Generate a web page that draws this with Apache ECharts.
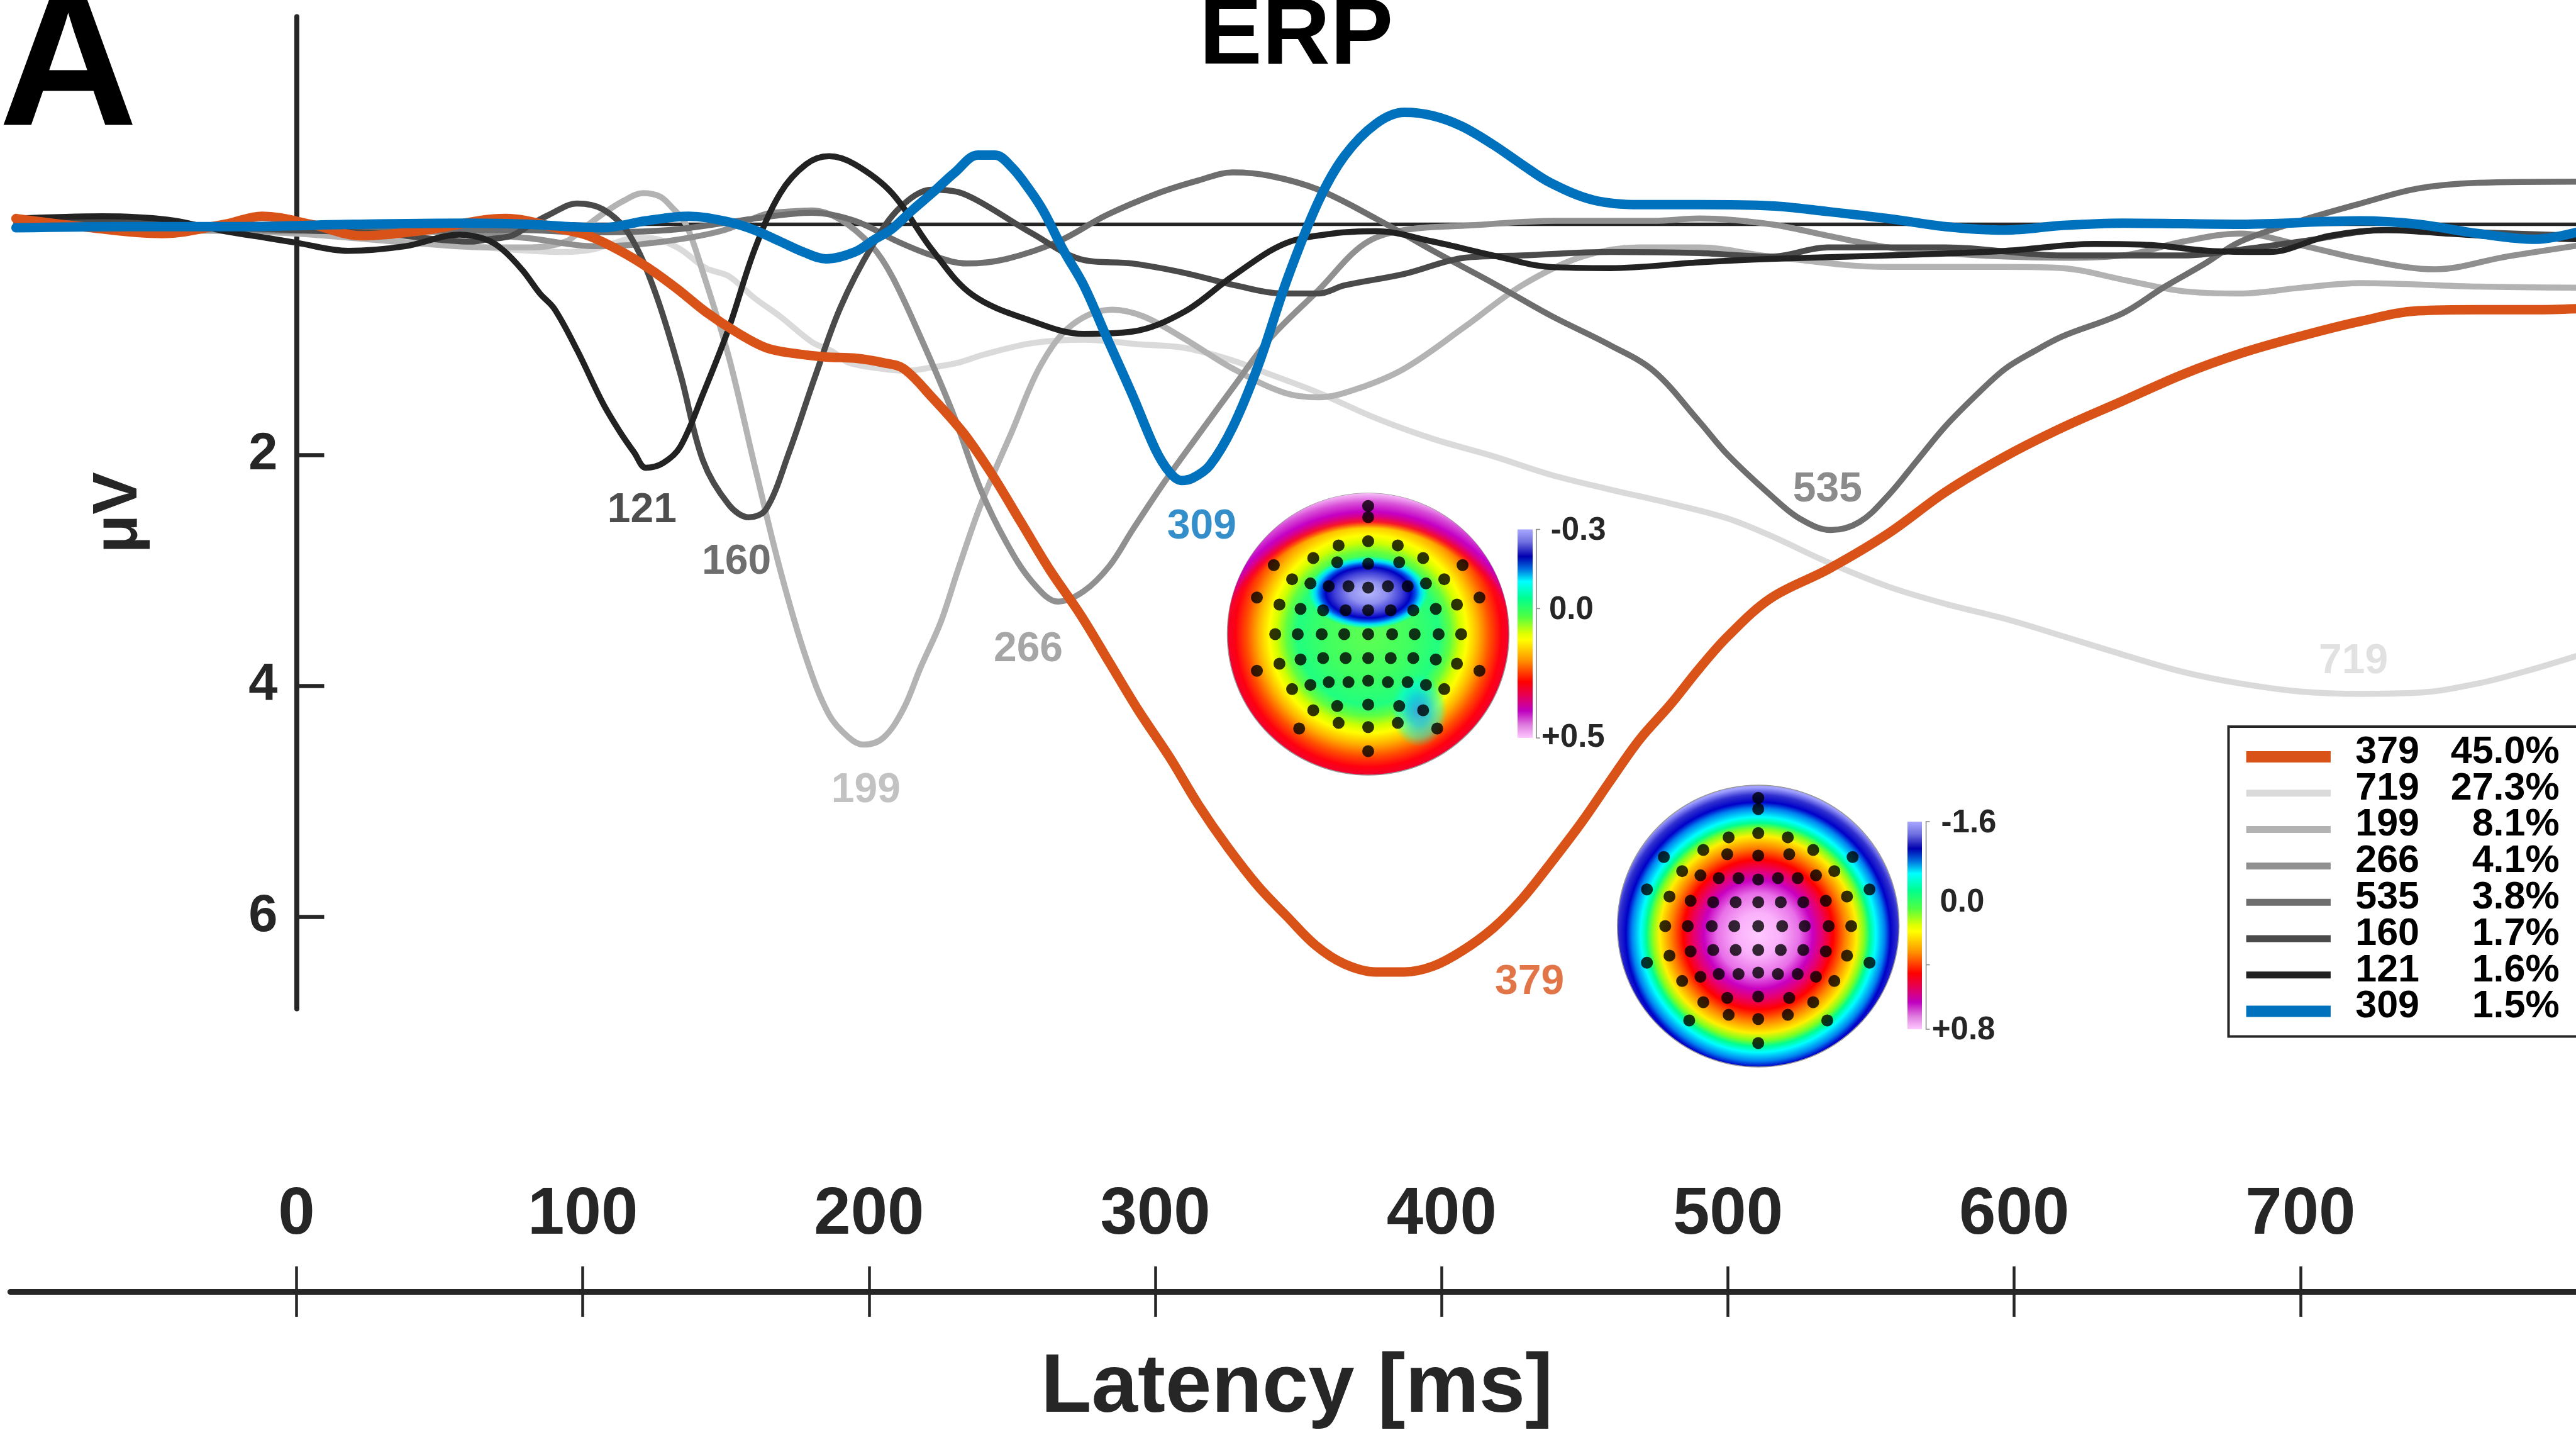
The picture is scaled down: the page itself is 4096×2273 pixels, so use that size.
<!DOCTYPE html>
<html><head><meta charset="utf-8">
<script src="https://cdn.jsdelivr.net/npm/echarts@6/dist/echarts.min.js"></script>
<style>html,body{margin:0;padding:0;background:#fff}#c{width:4096px;height:2273px}</style>
</head><body><div id="c"></div>
<script>
// ---------------- DATA ----------------
const tickLat = [0, 100, 200, 300, 400, 500, 600, 700];
const tickAmp = [2, 4, 6];

const lat379 = [-98,-75,-47,-25,-12,5,23,45,73,94,102,113,123,133,143,154,164,174,185,195,205,212,222,233,243,253,263,274,284,294,305,315,325,336,346,356,366,377,387,397,407,418,428,438,449,459,469,480,490,500,515,535,556,576,597,617,638,659,679,700,721,741,762,782,798];
const amp379 = [-0.05,0.02,0.08,0.0,-0.07,0.0,0.1,0.05,-0.05,0.05,0.1,0.23,0.38,0.56,0.76,0.94,1.07,1.12,1.15,1.16,1.2,1.25,1.5,1.81,2.17,2.58,2.99,3.39,3.8,4.21,4.62,5.03,5.39,5.74,6.0,6.25,6.41,6.48,6.48,6.43,6.3,6.1,5.85,5.54,5.18,4.82,4.47,4.16,3.85,3.57,3.24,2.99,2.68,2.32,2.01,1.76,1.53,1.3,1.12,0.97,0.84,0.75,0.74,0.74,0.73];

const lat719 = [-98,-60,-20,0,20,40,66,82,94,103,110,118,123,133,143,151,160,169,180,187,193,204,213,222,231,240,257,275,294,310,327,340,357,377,397,418,438,459,480,500,515,535,556,576,597,617,638,659,679,700,721,741,762,782,798];
const amp719 = [0.02,0.04,0.06,0.08,0.1,0.13,0.2,0.23,0.24,0.22,0.17,0.12,0.12,0.2,0.38,0.45,0.64,0.8,1.02,1.1,1.2,1.25,1.27,1.24,1.2,1.13,1.03,1.0,1.04,1.07,1.18,1.3,1.46,1.68,1.86,2.01,2.17,2.3,2.42,2.55,2.7,2.93,3.14,3.29,3.42,3.57,3.73,3.88,3.98,4.05,4.07,4.06,3.98,3.85,3.73];

const lat199 = [-98,-60,-20,0,20,45,67,82,94,101,107,114,121,127,131,136,142,151,160,169,178,186,193,198,205,212,218,225,231,239,250,260,271,285,296,310,327,345,357,370,387,408,428,449,469,490,515,556,597,617,638,659,679,700,721,762,798];
const amp199 = [0.0,0.05,0.06,0.08,0.12,0.17,0.2,0.2,0.15,0.02,-0.09,-0.2,-0.27,-0.24,-0.15,0.0,0.42,1.15,2.09,3.0,3.76,4.25,4.45,4.51,4.45,4.2,3.84,3.45,3.0,2.43,1.79,1.22,0.87,0.74,0.8,0.99,1.25,1.46,1.5,1.43,1.25,0.89,0.53,0.28,0.2,0.2,0.28,0.37,0.37,0.38,0.48,0.58,0.6,0.55,0.51,0.54,0.55];

const lat266 = [-98,-60,-20,0,30,60,81,104,125,148,164,172,180,190,201,208,218,229,239,248,257,266,275,284,292,303,314,327,340,357,373,387,410,440,474,490,515,535,556,576,597,618,638,659,679,700,721,747,772,798];
const amp266 = [0.0,0.03,0.05,0.06,0.05,0.08,0.12,0.19,0.16,0.06,-0.09,-0.11,-0.12,-0.04,0.19,0.45,0.98,1.62,2.3,2.76,3.1,3.27,3.18,2.96,2.65,2.24,1.86,1.42,0.99,0.57,0.17,0.05,0.01,-0.03,-0.03,-0.05,0.0,0.1,0.2,0.25,0.28,0.29,0.27,0.15,0.08,0.18,0.3,0.39,0.28,0.18];

const lat535 = [-98,-60,-20,0,30,60,80,100,130,160,180,195,210,222,234,248,266,283,301,315,327,340,357,377,397,418,438,459,474,490,500,515,525,536,546,556,566,576,588,597,607,617,638,652,666,679,700,721,741,762,798];
const amp535 = [0.0,0.02,0.04,0.05,0.06,0.05,0.05,0.07,0.05,-0.05,-0.1,-0.03,0.15,0.27,0.34,0.3,0.15,-0.08,-0.27,-0.38,-0.45,-0.42,-0.3,-0.05,0.23,0.51,0.79,1.05,1.27,1.71,2.0,2.35,2.55,2.65,2.58,2.35,2.05,1.75,1.45,1.25,1.1,0.97,0.77,0.55,0.35,0.15,-0.03,-0.18,-0.31,-0.36,-0.37];

const lat160 = [-98,-60,-30,0,30,61,67,75,82,88,98,107,116,125,134,142,151,158,164,172,181,190,201,211,222,231,239,257,275,292,310,328,345,357,366,387,408,428,459,490,515,535,576,617,659,679,700,730,762,798];
const amp160 = [-0.03,-0.02,0.02,0.05,0.08,0.15,0.13,0.1,0.0,-0.08,-0.18,-0.13,0.08,0.57,1.29,2.05,2.43,2.54,2.47,1.98,1.33,0.72,0.19,-0.15,-0.3,-0.28,-0.19,0.08,0.31,0.34,0.42,0.53,0.6,0.6,0.53,0.43,0.29,0.27,0.24,0.25,0.28,0.2,0.2,0.27,0.27,0.22,0.15,0.05,0.07,0.1];

const lat121 = [-98,-68,-45,-25,-10,0,18,38,57,66,72,79,85,90,98,107,113,118,122,128,134,142,151,160,169,178,186,195,208,222,236,257,275,292,310,327,345,362,377,397,418,438,459,490,515,556,597,628,648,668,689,710,730,751,772,798];
const amp121 = [-0.05,-0.07,-0.04,0.06,0.12,0.16,0.23,0.19,0.09,0.13,0.22,0.4,0.6,0.73,1.09,1.55,1.8,1.98,2.11,2.07,1.93,1.47,0.9,0.22,-0.27,-0.52,-0.59,-0.52,-0.27,0.22,0.61,0.84,0.95,0.93,0.76,0.45,0.17,0.08,0.06,0.15,0.27,0.37,0.38,0.33,0.3,0.27,0.23,0.17,0.18,0.23,0.24,0.1,0.05,0.08,0.11,0.13];

const lat309 = [-98,-60,-20,20,60,81,95,107,122,137,151,160,169,177,185,195,202,208,215,222,230,238,244,250,256,261,268,275,283,292,300,305,309,313,319,327,336,346,357,366,377,387,397,407,418,428,438,453,469,490,515,535,556,576,597,617,638,679,721,741,762,782,798];
const amp309 = [0.03,0.02,0.02,0.0,-0.01,0.0,0.02,0.03,-0.03,-0.07,-0.02,0.05,0.15,0.24,0.3,0.24,0.13,0.04,-0.12,-0.27,-0.45,-0.6,-0.6,-0.49,-0.3,-0.11,0.23,0.53,0.98,1.48,1.95,2.15,2.22,2.2,2.09,1.76,1.22,0.48,-0.2,-0.59,-0.87,-0.97,-0.94,-0.85,-0.69,-0.52,-0.36,-0.21,-0.17,-0.17,-0.16,-0.11,-0.05,0.02,0.05,0.01,-0.01,0.0,-0.03,0.0,0.08,0.13,0.06];

const compNames = ['379', '719', '199', '266', '535', '160', '121', '309'];
const compPct = ['45.0%', '27.3%', '8.1%', '4.1%', '3.8%', '1.7%', '1.6%', '1.5%'];
// peak-label anchor (latency, amplitude)
const labelLat = [430.7, 718.5, 198.9, 255.6, 534.8, 153.7, 120.7, 316.2];
const labelAmp = [6.57, 3.79, 4.91, 3.685, 2.30, 2.927, 2.485, 2.622];

// electrode layout (normalised head coords, y down)
const elecX = [0,0,-0.21,0,0.21,-0.67,-0.39,-0.22,0,0.22,0.39,0.67,-0.54,-0.41,-0.28,-0.14,0,0.14,0.28,0.41,0.54,-0.79,0.79,-0.63,-0.48,-0.32,-0.16,0,0.16,0.32,0.48,0.63,-0.66,-0.5,-0.33,-0.17,0,0.17,0.33,0.5,0.66,-0.63,-0.48,-0.32,-0.16,0,0.16,0.32,0.48,0.63,-0.79,0.79,-0.54,-0.41,-0.28,-0.14,0,0.14,0.28,0.41,0.54,-0.39,-0.22,0,0.22,0.39,-0.49,-0.21,0,0.21,0.49,0];
const elecY = [-0.91,-0.83,-0.63,-0.66,-0.63,-0.49,-0.54,-0.51,-0.5,-0.51,-0.54,-0.49,-0.39,-0.36,-0.34,-0.34,-0.33,-0.34,-0.34,-0.36,-0.39,-0.26,-0.26,-0.21,-0.18,-0.17,-0.17,-0.17,-0.17,-0.17,-0.18,-0.21,0,0,0,0,0,0,0,0,0,0.21,0.18,0.17,0.17,0.17,0.17,0.17,0.18,0.21,0.26,0.26,0.39,0.36,0.34,0.34,0.33,0.34,0.34,0.36,0.39,0.54,0.51,0.5,0.51,0.54,0.67,0.63,0.66,0.63,0.67,0.83];

const cbar1Labels = ['-0.3', '0.0', '+0.5'];
const cbar2Labels = ['-1.6', '0.0', '+0.8'];

// ---------------- STYLE / LAYOUT ----------------
const FONT = '"Liberation Sans", Arial, Helvetica, sans-serif';
const INK = '#262626';
const colors = {'379':'#D95319','719':'#DADADA','199':'#B3B3B3','266':'#909090','535':'#6E6E6E','160':'#4A4A4A','121':'#222222','309':'#0072BD'};
const widths = {'379':15,'309':15};
const GW = 4096.8, GL = 16.3;
const PT = 26.4, PH = 1577.2;
const H1 = {cx:2175.5, cy:1008, r:224};
const H2 = {cx:2795.7, cy:1472, r:224};

const zip = (a, b) => a.map((x, i) => [x, b[i]]);
const curveData = {
  '379': zip(lat379, amp379), '719': zip(lat719, amp719), '199': zip(lat199, amp199),
  '266': zip(lat266, amp266), '535': zip(lat535, amp535), '160': zip(lat160, amp160),
  '121': zip(lat121, amp121), '309': zip(lat309, amp309)
};
const drawOrder = ['719','199','266','535','160','121','379','309'];

const series = [];
series.push({type:'line', xAxisIndex:0, yAxisIndex:0, data:[[-98,0],[800,0]], symbol:'none',
  lineStyle:{color:INK, width:5.5}, z:1, silent:true, animation:false});
drawOrder.forEach((n, k) => {
  series.push({type:'line', name:n, xAxisIndex:0, yAxisIndex:0, data:curveData[n], smooth:0.35,
    symbol:'none', lineStyle:{color:colors[n], width:widths[n] || 9.5, cap:'round', join:'round'},
    z:2 + k*0.01, animation:false, silent:true});
});
series.push({type:'scatter', xAxisIndex:0, yAxisIndex:0, symbolSize:0.1, z:4, animation:false, silent:true,
  itemStyle:{color:'rgba(0,0,0,0)'},
  data: compNames.map((n, i) => ({value:[labelLat[i], labelAmp[i]],
    label:{show:true, position:'inside', formatter:n, color:colors[n], fontSize:66, fontWeight:'bold', fontFamily:FONT}}))
});
[2, 3].forEach(g => {
  series.push({type:'scatter', xAxisIndex:g+1, yAxisIndex:g, data:zip(elecX, elecY), symbol:'circle',
    symbolSize:19, itemStyle:{color:'#000'}, z:30, animation:false, silent:true});
});

// colormap (top = negative, bottom = positive)
const cmapStops = [[0,'#A8A8FF'],[0.06,'#7070E0'],[0.13,'#0000B0'],[0.19,'#0070E0'],[0.25,'#00FFFF'],[0.33,'#00FF90'],[0.42,'#50FF40'],[0.5,'#E0FF00'],[0.53,'#FFFF00'],[0.63,'#FF9000'],[0.73,'#FF0000'],[0.79,'#E8004C'],[0.87,'#C000C0'],[0.94,'#E080E0'],[1,'#FFC8FF']];
const lin = stops => ({type:'linear', x:0, y:0, x2:0, y2:1, colorStops: stops.map(s => ({offset:s[0], color:s[1]}))});
const rad = (x, y, r, stops) => ({type:'radial', x, y, r, colorStops: stops.map(s => ({offset:s[0], color:s[1]}))});

const graphics = [];
graphics.push({type:'text', x:-2, y:114, z:40, style:{text:'A', fontSize:306, fontWeight:'bold', fontFamily:FONT, fill:'#000', align:'left', verticalAlign:'middle'}});
graphics.push({type:'text', x:2061, y:60, z:40, style:{text:'ERP', fontSize:150, fontWeight:'bold', fontFamily:FONT, fill:'#000', align:'center', verticalAlign:'middle'}});
graphics.push({type:'text', x:189, y:815, rotation:Math.PI/2, z:40, style:{text:'μV', fontSize:101, fontWeight:'bold', fontFamily:FONT, fill:INK, align:'center', verticalAlign:'middle'}});
graphics.push({type:'text', x:2062, y:2208, z:40, style:{text:'Latency [ms]', fontSize:132, fontWeight:'bold', fontFamily:FONT, fill:INK, align:'center', verticalAlign:'middle'}});

// head 1 (309)
graphics.push({type:'circle', z:10, shape:{cx:H1.cx, cy:H1.cy, r:H1.r},
  style:{fill: rad(0.5,0.5,0.5,[[0,'#60FF50'],[0.3,'#40FF60'],[0.5,'#20FF80'],[0.58,'#60FF40'],[0.65,'#D0FF00'],[0.7,'#FFFF00'],[0.78,'#FFB000'],[0.86,'#FF5000'],[0.94,'#FF0010'],[1,'#F00030']]), stroke:'#999', lineWidth:1.5}});
graphics.push({type:'circle', z:11, shape:{cx:H1.cx, cy:H1.cy, r:H1.r},
  style:{fill: rad(0.5,0.65,0.65,[[0,'rgba(255,0,0,0)'],[0.81,'rgba(255,20,20,0)'],[0.845,'rgba(245,0,50,0.85)'],[0.875,'#D8008C'],[0.9,'#C400C4'],[0.95,'#D850D8'],[1,'#F8C0F8']])}});
graphics.push({type:'circle', z:12, x:H1.cx, y:H1.cy - 0.295*H1.r, scaleY:0.6, shape:{cx:0, cy:0, r:0.43*H1.r},
  style:{fill: rad(0.5,0.5,0.5,[[0,'#B8B8FF'],[0.3,'#9090F0'],[0.55,'#4040D8'],[0.7,'#0000C0'],[0.78,'#0050E8'],[0.86,'#00D0FF'],[0.93,'rgba(0,255,230,0.7)'],[1,'rgba(0,255,160,0)']])}});
graphics.push({type:'circle', z:12, x:H1.cx + 0.36*H1.r, y:H1.cy + 0.54*H1.r, scaleY:1.3, shape:{cx:0, cy:0, r:0.2*H1.r},
  style:{fill: rad(0.5,0.5,0.5,[[0,'rgba(40,150,245,0.9)'],[0.4,'rgba(0,200,255,0.75)'],[0.75,'rgba(0,255,240,0.45)'],[1,'rgba(0,255,200,0)']])}});
// head 2 (379)
graphics.push({type:'circle', z:10, shape:{cx:H2.cx, cy:H2.cy, r:H2.r},
  style:{fill: rad(0.5,0.53,0.52,[[0,'#FFC8FF'],[0.15,'#FAB0FA'],[0.28,'#E870E8'],[0.37,'#C800C0'],[0.44,'#E8006A'],[0.51,'#FF0000'],[0.59,'#FF8000'],[0.67,'#FFF000'],[0.72,'#80FF20'],[0.76,'#00FF90'],[0.8,'#00FFFF'],[0.86,'#0080F0'],[0.9,'#0000C8'],[0.95,'#3030D0'],[1,'#A0A0FF']]), stroke:'#999', lineWidth:1.5}});

function colorbar(x, y, w, h, bx, zeroY, labels, labelPos) {
  graphics.push({type:'rect', z:10, shape:{x, y, width:w, height:h}, style:{fill: lin(cmapStops)}});
  graphics.push({type:'polyline', z:10, shape:{points:[[bx+6,y],[bx,y],[bx,y+h],[bx+6,y+h]]}, style:{stroke:'#888', lineWidth:1.6, fill:null}});
  graphics.push({type:'line', z:10, shape:{x1:bx, y1:zeroY, x2:bx+6, y2:zeroY}, style:{stroke:'#888', lineWidth:1.6}});
  labels.forEach((t, i) => graphics.push({type:'text', z:10, x:labelPos[i][0], y:labelPos[i][1],
    style:{text:t, fontSize:51, fontWeight:'bold', fontFamily:FONT, fill:INK, align:'left', verticalAlign:'middle'}}));
}
colorbar(2413, 841.5, 24, 331.5, 2443, 967.4, cbar1Labels, [[2465.7,843.5],[2463,970],[2451,1173]]);
colorbar(3033, 1306, 23, 330, 3062.6, 1533.5, cbar2Labels, [[3086.6,1308.5],[3084.5,1434.8],[3071.8,1637.5]]);

// legend
graphics.push({type:'rect', z:20, shape:{x:3543.5, y:1155, width:640, height:492.5}, style:{fill:'#fff', stroke:INK, lineWidth:4}});
compNames.forEach((n, i) => {
  const yl = 1203 + i*57.8, yt = 1196 + i*57.8;
  graphics.push({type:'line', z:21, shape:{x1:3571.6, y1:yl, x2:3705.9, y2:yl}, style:{stroke:colors[n], lineWidth: widths[n] ? 18 : 11}});
  graphics.push({type:'text', z:21, x:3847, y:yt, style:{text:n, fontSize:61, fontWeight:'bold', fontFamily:FONT, fill:'#000', align:'right', verticalAlign:'middle'}});
  graphics.push({type:'text', z:21, x:4069.7, y:yt, style:{text:compPct[i], fontSize:61, fontWeight:'bold', fontFamily:FONT, fill:'#000', align:'right', verticalAlign:'middle'}});
});

const hidden = {show:false};
const gridBase = {containLabel:false, outerBoundsMode:'none'};
const option = {
  backgroundColor:'#fff',
  animation:false,
  grid:[
    Object.assign({left:GL, top:PT, width:GW, height:PH}, gridBase),
    Object.assign({left:GL, top:2053, width:GW, height:1}, gridBase),
    Object.assign({left:H1.cx - H1.r, top:H1.cy - H1.r, width:2*H1.r, height:2*H1.r}, gridBase),
    Object.assign({left:H2.cx - H2.r, top:H2.cy - H2.r, width:2*H2.r, height:2*H2.r}, gridBase)
  ],
  xAxis:[
    {gridIndex:0, type:'value', min:-100, max:800, show:false},
    {gridIndex:1, type:'value', min:-100, max:800, position:'top',
      axisLine:{show:true, onZero:false, lineStyle:{color:INK, width:9}},
      axisTick:{show:true, inside:false, length:40, customValues:tickLat, lineStyle:{color:INK, width:4.5}},
      axisLabel:{show:true, customValues:tickLat, margin:68, fontSize:105, fontWeight:'bold', fontFamily:FONT, color:INK},
      splitLine:hidden},
    {gridIndex:1, type:'value', min:-100, max:800, position:'top',
      axisLine:{show:false, onZero:false},
      axisTick:{show:true, inside:true, length:40, customValues:tickLat, lineStyle:{color:INK, width:4.5}},
      axisLabel:hidden, splitLine:hidden},
    {gridIndex:2, type:'value', min:-1, max:1, show:false},
    {gridIndex:3, type:'value', min:-1, max:1, show:false}
  ],
  yAxis:[
    {gridIndex:0, type:'value', min:-1.8, max:6.8, inverse:true, position:'left', offset:-455.2,
      axisLine:{show:true, onZero:false, lineStyle:{color:INK, width:8}},
      axisTick:{show:true, inside:true, length:44, customValues:tickAmp, lineStyle:{color:INK, width:6.5}},
      axisLabel:{show:true, customValues:tickAmp, margin:30, fontSize:83, fontWeight:'bold', fontFamily:FONT, color:INK},
      splitLine:hidden},
    {gridIndex:1, type:'value', min:0, max:1, show:false},
    {gridIndex:2, type:'value', min:-1, max:1, inverse:true, show:false},
    {gridIndex:3, type:'value', min:-1, max:1, inverse:true, show:false}
  ],
  series: series,
  graphic: graphics
};
const chart = echarts.init(document.getElementById('c'));
chart.setOption(option);
</script>
</body></html>
